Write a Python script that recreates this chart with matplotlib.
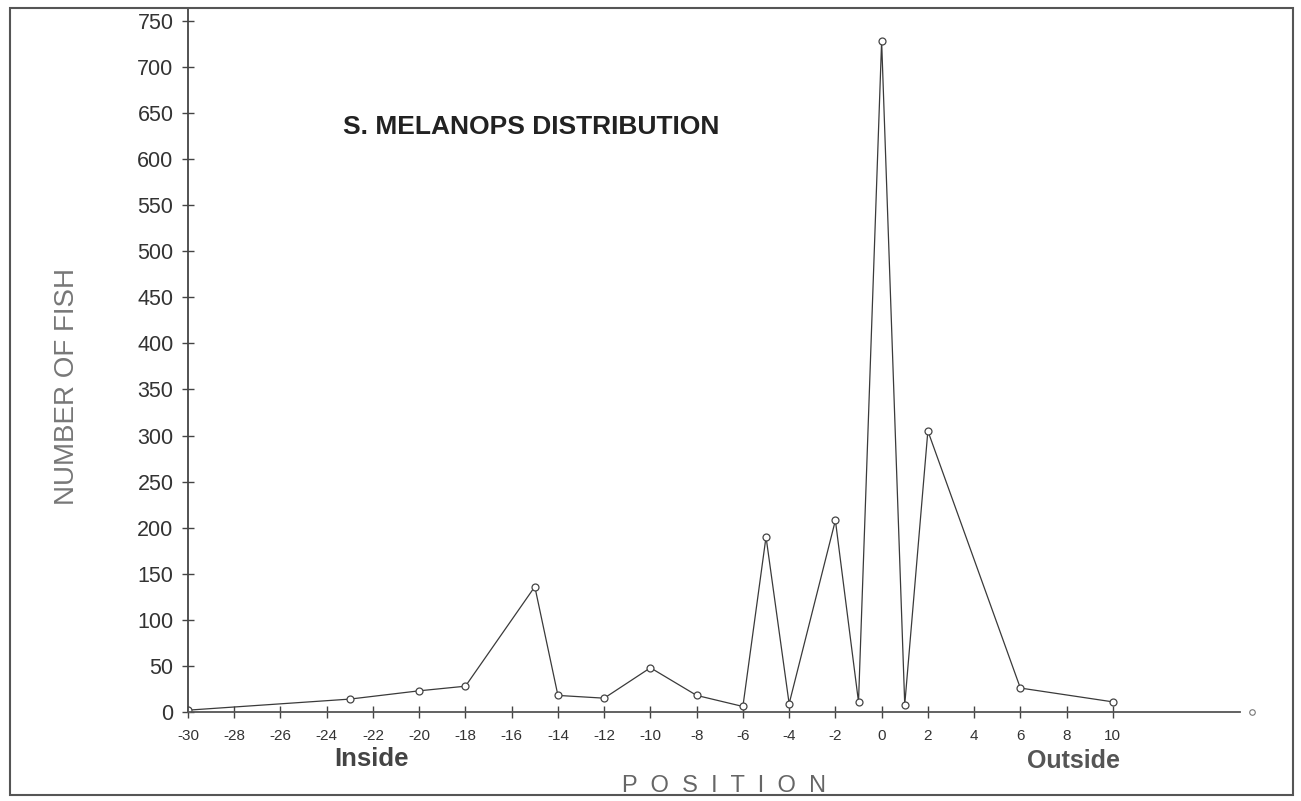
import matplotlib
matplotlib.use('Agg')
import matplotlib.pyplot as plt
from matplotlib.patches import Rectangle

plt.rcParams['font.family'] = ['Liberation Sans', 'DejaVu Sans']

# data
position = [-30, -23, -20, -18, -15, -14, -12, -10, -8, -6, -5, -4, -2, -1, 0, 1, 2, 6, 10]
n_fish = [2, 14, 23, 28, 136, 18, 15, 48, 18, 6, 190, 9, 208, 11, 728, 8, 305, 26, 11]

# stray marker at the end of the axis
end_pos = [16]
end_val = [0]

xticks = list(range(-30, 11, 2))
yticks = list(range(0, 751, 50))

fig = plt.figure(figsize=(13.01, 8.01), dpi=100)
fig.patch.set_facecolor('white')

# scanned page frame
fig.patches.append(Rectangle((10/1301, 1 - 795/801), 1283/1301, 787/801,
                             transform=fig.transFigure, fill=False,
                             edgecolor='#555555', lw=1.5))

ax = fig.add_axes([188/1301, 1 - 712/801, (1240 - 188)/1301, (712 - 8)/801])
ax.plot(position, n_fish, color='#3a3a3a', lw=0.9, marker='o', ms=5,
        mfc='white', mec='#444444', mew=0.9)
ax.plot(end_pos, end_val, ls='none', marker='o', ms=4, mfc='white',
        mec='#777777', mew=0.8, clip_on=False)

ax.set_xlim(-30, 15.5)
ax.set_ylim(0, 764)
ax.set_xticks(xticks)
ax.set_yticks(yticks)
ax.set_xticklabels([str(t) for t in xticks], fontsize=11, color='#333333')
ax.set_yticklabels([str(t) for t in yticks], fontsize=15.5, color='#333333')
ax.tick_params(direction='inout', length=9, width=1, color='#444444')
ax.tick_params(axis='x', pad=8)
ax.tick_params(axis='y', pad=6)

for s in ['top', 'right']:
    ax.spines[s].set_visible(False)
ax.spines['left'].set_color('#444444')
ax.spines['bottom'].set_color('#555555')
ax.spines['left'].set_linewidth(1.3)
ax.spines['bottom'].set_linewidth(1.3)

fig.text(531/1301, 1 - 127/801, 'S. MELANOPS DISTRIBUTION', fontsize=19,
         fontweight='bold', color='#222222', ha='center', va='center')
fig.text(67/1301, 1 - 386/801, 'NUMBER OF FISH', fontsize=20,
         color='#777777', rotation=90, ha='center', va='center')
fig.text(724/1301, 1 - 786/801, 'P  O  S  I  T  I  O  N', fontsize=17,
         color='#666666', ha='center', va='center')
fig.text(371/1301, 1 - 759/801, 'Inside', fontsize=18.5,
         fontweight='bold', color='#444444', ha='center', va='center')
fig.text(1074/1301, 1 - 761/801, 'Outside', fontsize=18,
         fontweight='bold', color='#555555', ha='center', va='center')

fig.savefig('out.png', dpi=100)
